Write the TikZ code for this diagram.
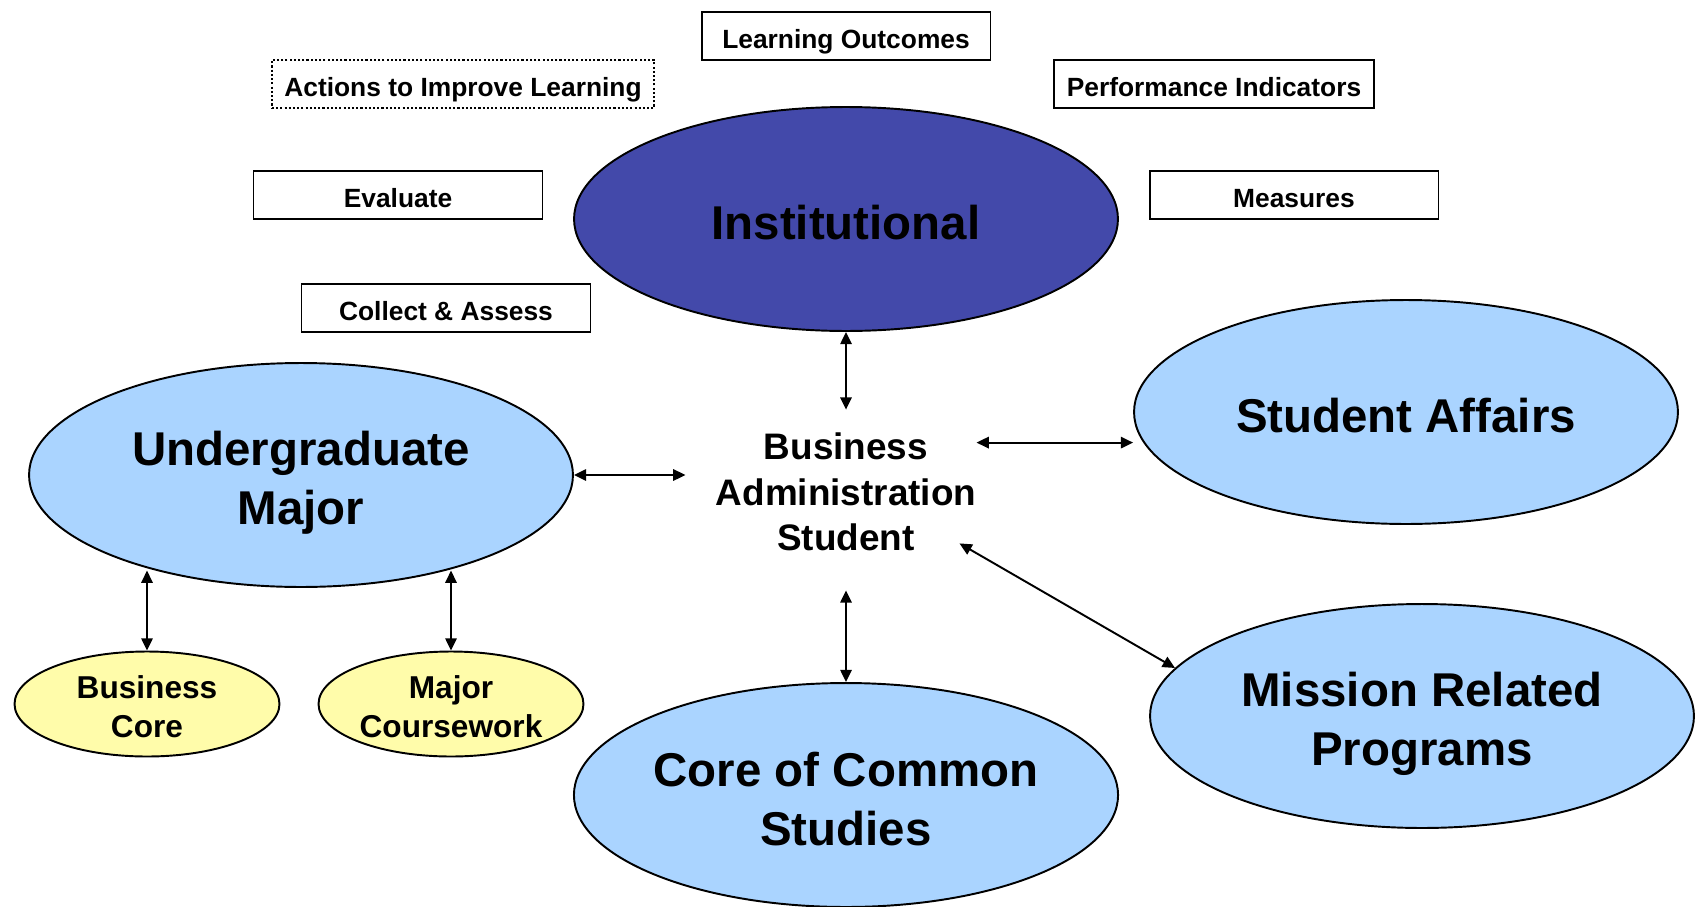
\documentclass[tikz,border=0pt]{standalone}
\usepackage{fontspec}
\setmainfont{Liberation Sans}
\usetikzlibrary{shapes.geometric,arrows.meta,calc}
\definecolor{instblue}{RGB}{67,73,170}
\definecolor{lightblue}{RGB}{170,212,255}
\definecolor{paleyellow}{RGB}{255,252,170}
\begin{document}
\begin{tikzpicture}[x=0.02cm,y=-0.02cm,
 bigell/.style={ellipse, draw, line width=1.1pt, fill=lightblue, minimum width=10.88cm, minimum height=4.48cm, inner sep=0pt, align=center, font=\fontsize{27}{33.5}\selectfont\bfseries, text depth=0pt, text height=56pt},
 oneline/.style={text height=23pt},
 smallell/.style={ellipse, draw, line width=1.1pt, fill=paleyellow, minimum width=5.3cm, minimum height=2.1cm, inner sep=0pt, align=center, font=\fontsize{18}{22}\selectfont\bfseries, text depth=0pt, text height=38pt},
 labelbox/.style={draw, line width=1.1pt, minimum width=5.78cm, minimum height=0.96cm, inner xsep=0.25cm, font=\fontsize{15}{18}\selectfont\bfseries, text height=14.5pt, text depth=0pt},
 dotbox/.style={labelbox, dash pattern=on 1.2pt off 1.2pt},
 arr/.style={{Triangle[length=7pt,width=6.5pt]}-{Triangle[length=7pt,width=6.5pt]}, line width=1.1pt}
]
\useasboundingbox (0,0) rectangle (1703,906);

\node[labelbox] (lo) at (846,36) {Learning Outcomes};
\node[dotbox] (act) at (463,84) {Actions to Improve Learning};
\node[labelbox] (pi) at (1214,84) {Performance Indicators};
\node[labelbox] (ev) at (398,195) {Evaluate};
\node[labelbox] (me) at (1294,195) {Measures};
\node[labelbox] (ca) at (446,308) {Collect \& Assess};

\node[bigell, oneline, fill=instblue] (inst) at (846,219) {Institutional};
\node[bigell] (um) at (301,475) {Undergraduate\\Major};
\node[bigell, oneline] (sa) at (1406,412) {Student Affairs};
\node[bigell] (mrp) at (1422,716) {Mission Related\\Programs};
\node[bigell, text height=57.5pt] (ccs) at (846,795) {Core of Common\\Studies};
\node[smallell] (bc) at (147,704) {Business\\Core};
\node[smallell] (mc) at (451,704) {Major\\Coursework};
\node[font=\fontsize{21}{25.9}\selectfont\bfseries, align=center, inner sep=0pt] (stu) at (846,492) {Business\\Administration\\Student};

\draw[arr] (inst.south) -- ($(stu.north)+(0,-23)$);
\draw[arr] (um.east) -- ($(stu.west |- um.east)+(-30,0)$);
\draw[arr] ($(stu.north east)+(0,10)$) coordinate (s1) -- (s1 -| sa.west);
\draw[arr] ($(stu.south east)+(-17,-8)$) -- (mrp.169);
\draw[arr] ($(stu.south)+(0,39)$) -- (ccs.north);
\draw[arr] (bc.north) -- ($(bc.north)+(0,-80)$);
\draw[arr] (mc.north) -- ($(mc.north)+(0,-80)$);
\end{tikzpicture}
\end{document}
